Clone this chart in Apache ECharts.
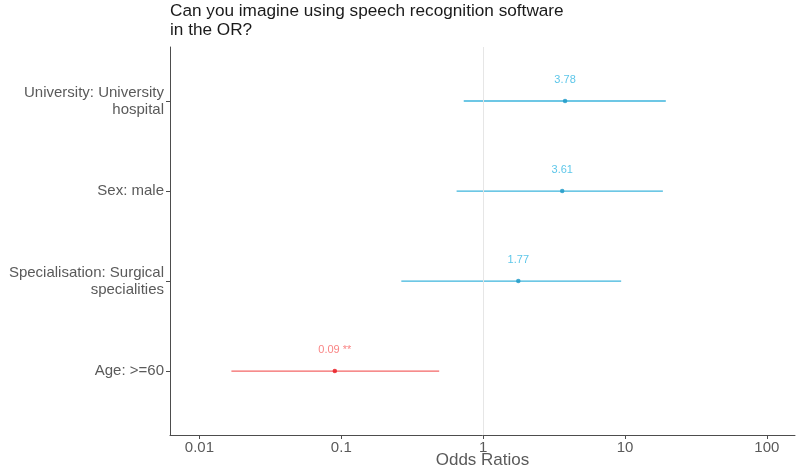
<!DOCTYPE html>
<html>
<head>
<meta charset="utf-8">
<script src="https://cdn.jsdelivr.net/npm/echarts@6/dist/echarts.min.js"></script>
<style>
html,body{margin:0;padding:0;background:#fff;}
#c{width:796px;height:469px;}
</style>
</head>
<body>
<div id="c"></div>
<script>
// Data (top to bottom)
const categories = ["University: University\nhospital", "Sex: male", "Specialisation: Surgical\nspecialities", "Age: >=60"];
const oddsRatios = [3.78, 3.61, 1.77, 0.09];
const ciLow = [0.73, 0.65, 0.265, 0.0168];
const ciHigh = [19.4, 18.5, 9.4, 0.49];
const stars = ["", "", "", "**"];
const xTicks = [0.01, 0.1, 1, 10, 100];

const n = categories.length;
const rowPos = categories.map((c, i) => n - i);
const BLUE_LINE = '#3DB5DC', BLUE_PT = '#1A97C6', BLUE_TXT = '#33B8E4';
const RED_LINE = '#F36666', RED_PT = '#E8141C', RED_TXT = '#F76565';
const isSig = i => stars[i] !== "";

const barData = categories.map((c, i) => [ciLow[i], ciHigh[i], rowPos[i], i]);
const ptData = categories.map((c, i) => ({
  value: [oddsRatios[i], rowPos[i]],
  itemStyle: {color: isSig(i) ? RED_PT : BLUE_PT},
  label: {color: isSig(i) ? RED_TXT : BLUE_TXT,
    formatter: oddsRatios[i].toFixed(2) + (stars[i] ? ' ' + stars[i] : '')}
}));

const chart = echarts.init(document.getElementById('c'), null, {renderer: 'canvas'});
chart.setOption({
  animation: false,
  backgroundColor: '#fff',
  title: {
    text: 'Can you imagine using speech recognition software\nin the OR?',
    left: 165, top: -3,
    textStyle: {fontFamily: 'Liberation Sans, Arial, sans-serif', fontSize: 17.2, fontWeight: 'normal', color: '#1a1a1a', lineHeight: 19}
  },
  grid: {left: 170, right: 1, top: 47, bottom: 34, containLabel: false, outerBoundsMode: 'none'},
  xAxis: {
    type: 'log', logBase: 10, min: 0.0062, max: 158,
    name: 'Odds Ratios', nameLocation: 'middle', nameGap: 17, nameMoveOverlap: false,
    nameTextStyle: {fontFamily: 'Liberation Sans, Arial, sans-serif', fontSize: 17, color: '#5a5a5a'},
    axisLine: {show: true, lineStyle: {color: '#4d4d4d', width: 1}},
    axisTick: {show: true, length: 4, lineStyle: {color: '#4d4d4d'}, customValues: xTicks},
    axisLabel: {customValues: xTicks, margin: 5, fontFamily: 'Liberation Sans, Arial, sans-serif', fontSize: 15, color: '#5a5a5a',
      formatter: v => String(+Number(v).toPrecision(3))},
    splitLine: {show: false}
  },
  yAxis: {
    type: 'value', min: 0.29, max: 4.6,
    axisLine: {show: true, onZero: false, lineStyle: {color: '#4d4d4d', width: 1}},
    axisTick: {show: true, length: 4, lineStyle: {color: '#4d4d4d'}, customValues: rowPos},
    axisLabel: {customValues: rowPos, margin: 6, fontFamily: 'Liberation Sans, Arial, sans-serif', fontSize: 15, color: '#5a5a5a', lineHeight: 17, align: 'right',
      formatter: v => { const i = rowPos.indexOf(Math.round(v)); return i >= 0 ? categories[i] : ''; }},
    splitLine: {show: false}
  },
  series: [
    {
      type: 'custom',
      data: barData,
      encode: {x: [0, 1], y: 2},
      z: 2,
      renderItem: (params, api) => {
        const y = api.value(2);
        const a = api.coord([api.value(0), y]);
        const b = api.coord([api.value(1), y]);
        const i = api.value(3);
        return {type: 'line', shape: {x1: a[0], y1: a[1], x2: b[0], y2: b[1]},
          style: {stroke: isSig(i) ? RED_LINE : BLUE_LINE, lineWidth: 1.3}};
      },
      markLine: {
        silent: true, symbol: 'none', label: {show: false},
        lineStyle: {color: '#e6e6e6', width: 1, type: 'solid'},
        data: [{xAxis: 1}]
      }
    },
    {
      type: 'scatter',
      data: ptData,
      symbol: 'circle', symbolSize: 4.5,
      z: 3,
      label: {show: true, position: 'top', distance: 13, fontFamily: 'Liberation Sans, Arial, sans-serif', fontSize: 11}
    }
  ]
});
</script>
</body>
</html>
